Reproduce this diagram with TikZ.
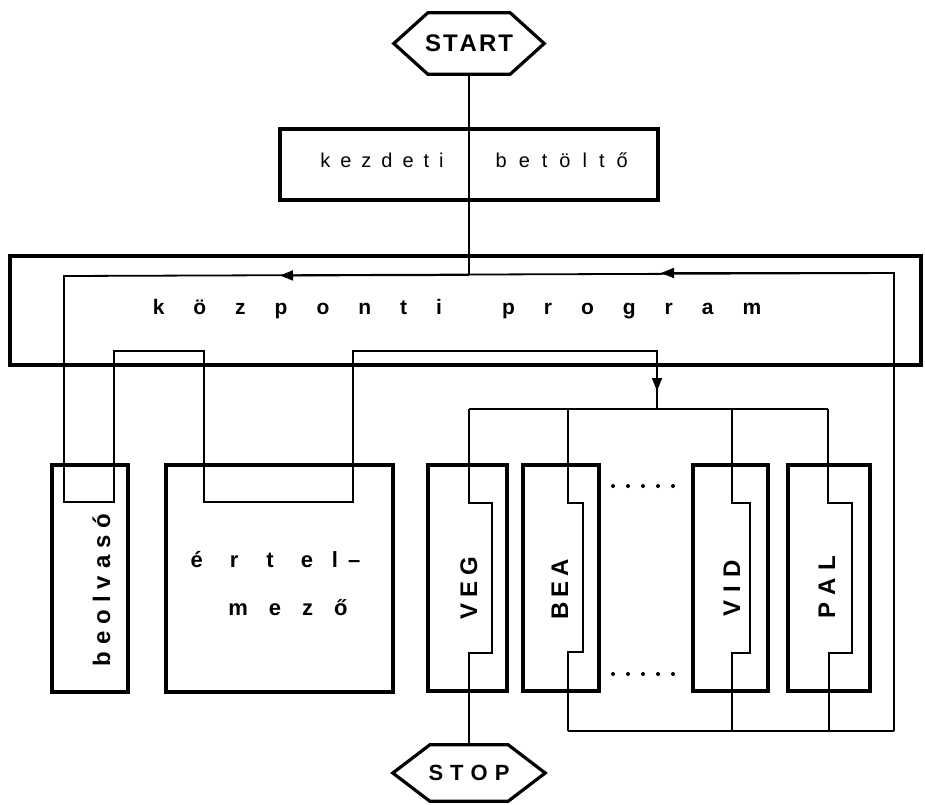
\documentclass[tikz,border=0pt]{standalone}
\usepackage{fontspec}
\setmainfont{Liberation Sans}
\usetikzlibrary{arrows.meta}
\makeatletter
\newcommand\spacedtxt[2]{\@tfor\spc@tok:=#2\do{\spc@tok\hspace{#1}}\unskip}
\makeatother
\begin{document}
\begin{tikzpicture}[x=1pt,y=-1pt,
  box/.style={draw,line width=3.8pt,inner sep=0pt},
  conn/.style={line width=1.8pt},
  hexline/.style={line width=3.2pt,line join=miter},
  tip/.style={-{Triangle[length=13pt,width=10pt]}},
  bigbold/.style={font=\fontsize{24}{28}\selectfont\bfseries,inner sep=0pt},
  midbold/.style={font=\fontsize{21}{25}\selectfont\bfseries,inner sep=0pt},
  plain/.style={font=\fontsize{20}{24}\selectfont,inner sep=0pt}]
\useasboundingbox (0,0) rectangle (925,804);
\fill[white] (0,0) rectangle (925,804);
% hexagons
\node[bigbold,minimum width=150pt,minimum height=61pt] (start) at (469,43.5) {\spacedtxt{2pt}{START}};
\draw[hexline] (start.west) -- ([xshift=34pt]start.north west) -- ([xshift=-34pt]start.north east) -- (start.east) -- ([xshift=-34pt]start.south east) -- ([xshift=34pt]start.south west) -- cycle;
\node[font=\fontsize{22}{26}\selectfont\bfseries,inner sep=0pt,minimum width=152pt,minimum height=56pt] (stop) at (469,773) {\spacedtxt{7pt}{STOP}};
\draw[hexline] (stop.west) -- ([xshift=37pt]stop.north west) -- ([xshift=-37pt]stop.north east) -- (stop.east) -- ([xshift=-37pt]stop.south east) -- ([xshift=37pt]stop.south west) -- cycle;
% boxes
\node[box,minimum width=378pt,minimum height=71pt] (kezd) at (469,164.5) {};
\node[box,line width=4.2pt,minimum width=911pt,minimum height=109pt] (kp) at (465.5,310.5) {};
\node[box,minimum width=76pt,minimum height=227pt] (beol) at (90,578.5) {};
\node[box,minimum width=227pt,minimum height=227pt] (ertel) at (279.5,578.5) {};
\node[box,minimum width=79pt,minimum height=226pt] (veg) at (467.5,578) {};
\node[box,minimum width=76pt,minimum height=226pt] (bea) at (561,578) {};
\node[box,minimum width=75pt,minimum height=226pt] (vid) at (730.5,578) {};
\node[box,minimum width=82pt,minimum height=226pt] (pal) at (829,578) {};
% texts
\node[plain,anchor=base] (tkezd) at (474,167) {\spacedtxt{10pt}{kezdeti}\hspace{52pt}\spacedtxt{12pt}{betöltő}};
\node[midbold,anchor=base] (tkp) at (457,314) {\spacedtxt{29pt}{központi}\hspace{60pt}\spacedtxt{29pt}{program}};
\node[font=\fontsize{22}{26}\selectfont\bfseries,inner sep=0pt,anchor=base] (tert1) at (275.5,567) {é\hspace{27pt}r\hspace{28pt}t\hspace{27pt}e\hspace{19pt}l\hspace{10pt}–};
\node[font=\fontsize{22}{26}\selectfont\bfseries,inner sep=0pt,anchor=base] (tert2) at (288,615) {\spacedtxt{21pt}{mező}};
\node[bigbold,rotate=90,anchor=base] (tbeol) at (110,590) {\spacedtxt{7pt}{beolvasó}};
\node[bigbold,rotate=90,anchor=base] (tveg) at (477,588) {\spacedtxt{6pt}{VEG}};
\node[bigbold,rotate=90,anchor=base] (tbea) at (568,589) {\spacedtxt{5pt}{BEA}};
\node[bigbold,rotate=90,anchor=base] (tvid) at (740,588) {\spacedtxt{8pt}{VID}};
\node[bigbold,rotate=90,anchor=base] (tpal) at (835,587) {\spacedtxt{7pt}{PAL}};
% coordinates
\coordinate (kpline) at (0,275);
\coordinate (jA) at (start.south |- kpline);
\coordinate (lineR) at (894,273);
\coordinate (lineL) at (64,276);
\coordinate (retB) at (894,731);
\coordinate (busC) at (657,409);
\coordinate (vegT) at (469,409);
\coordinate (beaT) at (568,409);
\coordinate (vidT) at (732,409);
\coordinate (palT) at (828,409);
\coordinate (beaB) at (568,731);
\coordinate (vidB) at (732,731);
\coordinate (palB) at (829,731);
% connectors
\draw[conn] (start.south) -- (jA);
\draw[conn] (retB) -- (lineR) -- (lineL) -- (64,502) -- (114,502) -- (114,351) -- (204,351) -- (204,502) -- (353,502) -- (353,351) -- (657,351) -- (busC);
\draw[conn,tip] (lineR) -- (661,273);
\draw[conn,tip] (jA) -- (280,275.5);
\draw[conn,tip] (657,351) -- (657,391);
\draw[conn] (vegT) -- (palT);
\draw[conn] (vegT) -- (469,503) -- (492,503) -- (492,653) -- (469,653) -- (stop.north);
\draw[conn] (beaT) -- (568,503) -- (583,503) -- (583,652) -- (568,652) -- (beaB);
\draw[conn] (vidT) -- (732,503) -- (750,503) -- (750,653) -- (732,653) -- (vidB);
\draw[conn] (palT) -- (828,503) -- (852,503) -- (852,653) -- (829,653) -- (palB);
\draw[conn] (beaB) -- (retB);
% dots
\foreach \i in {0,...,4} {
  \fill ({613+15*\i},486) circle (2pt);
  \fill ({613+15*\i},674) circle (2pt);
}
\end{tikzpicture}
\end{document}
